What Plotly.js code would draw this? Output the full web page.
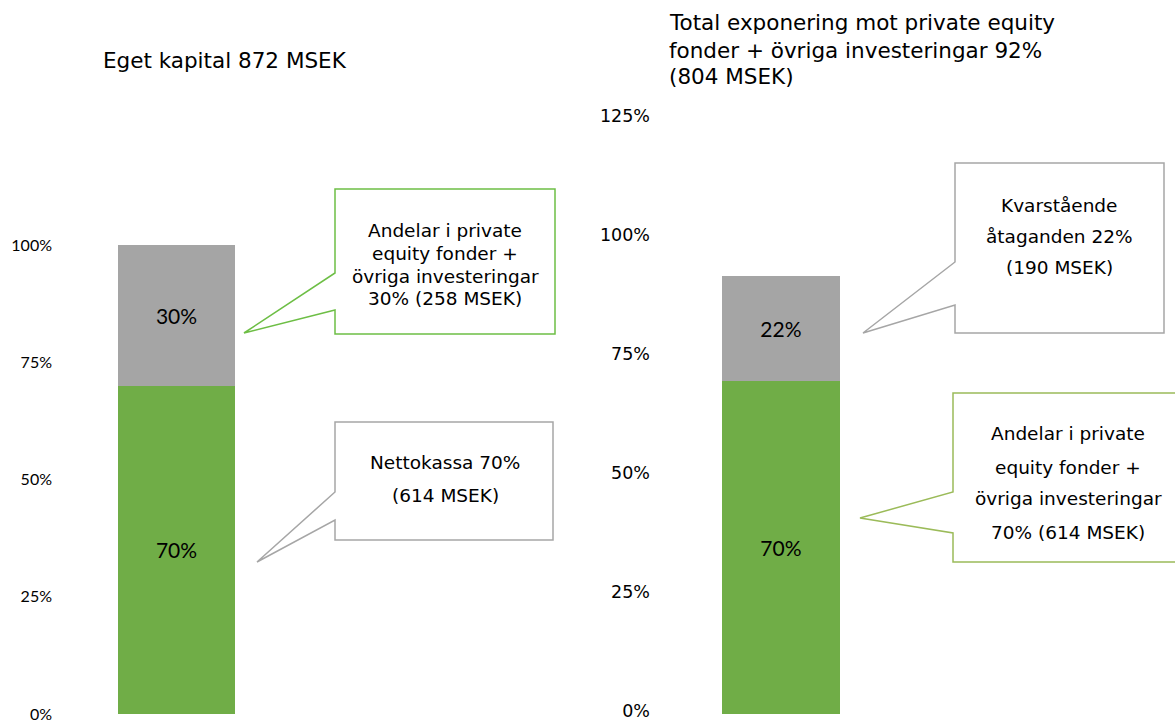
<!DOCTYPE html>
<html>
<head>
<meta charset="utf-8">
<script src="https://cdn.plot.ly/plotly-3.0.1.min.js"></script>
<style>html,body{margin:0;padding:0;background:#fff;}#chart{width:1175px;height:722px;}</style>
</head>
<body>
<div id="chart"></div>
<script>
// ---- Data ----
const leftCategory = ['Eget kapital'];
const leftNetCash = [0.70];          // Nettokassa
const leftHoldings = [0.30];         // Andelar i PE-fonder + övriga investeringar
const rightCategory = ['Total exponering'];
const rightHoldings = [0.70];        // Andelar i PE-fonder + övriga investeringar
const rightCommitments = [0.22];     // Kvarstående åtaganden
const leftTicks = [0, 0.25, 0.5, 0.75, 1.0];
const rightTicks = [0, 0.25, 0.5, 0.75, 1.0, 1.25];
const leftTitle = 'Eget kapital 872 MSEK';
const rightTitleLines = ['Total exponering mot private equity', 'fonder + övriga investeringar 92%', '(804 MSEK)'];
const calloutLeftTop = ['Andelar i private', 'equity fonder +', 'övriga investeringar', '30% (258 MSEK)'];
const calloutLeftBottom = ['Nettokassa 70%', '(614 MSEK)'];
const calloutRightTop = ['Kvarstående', 'åtaganden 22%', '(190 MSEK)'];
const calloutRightBottom = ['Andelar i private', 'equity fonder +', 'övriga investeringar', '70% (614 MSEK)'];

// ---- Helpers ----
const W = 1175, H = 722;
const px = x => x / W;
const py = y => 1 - y / H;
const pct = v => Math.round(v * 100) + '%';
const GREEN = '#70AD47', GREY = '#A5A5A5';
const barFont = {family: 'Lato, "Liberation Sans", sans-serif', size: 21, color: '#000'};

const traces = [
  {type: 'bar', x: leftCategory, y: leftNetCash, xaxis: 'x', yaxis: 'y', width: 1,
   marker: {color: GREEN}, text: leftNetCash.map(pct), textposition: 'inside', insidetextanchor: 'middle',
   textfont: barFont, hoverinfo: 'skip'},
  {type: 'bar', x: leftCategory, y: leftHoldings, xaxis: 'x', yaxis: 'y', width: 1,
   marker: {color: GREY}, text: leftHoldings.map(pct), textposition: 'inside', insidetextanchor: 'middle',
   textfont: barFont, hoverinfo: 'skip'},
  {type: 'bar', x: rightCategory, y: rightHoldings, xaxis: 'x2', yaxis: 'y2', width: 1,
   marker: {color: GREEN}, text: rightHoldings.map(pct), textposition: 'inside', insidetextanchor: 'middle',
   textfont: barFont, hoverinfo: 'skip'},
  {type: 'bar', x: rightCategory, y: rightCommitments, xaxis: 'x2', yaxis: 'y2', width: 1,
   marker: {color: GREY}, text: rightCommitments.map(pct), textposition: 'inside', insidetextanchor: 'middle',
   textfont: barFont, hoverinfo: 'skip'}
];

function calloutPath(pts) {
  return 'M ' + pts.map(p => px(p[0]) + ',' + py(p[1])).join(' L ') + ' Z';
}
const shapes = [
  {type: 'path', xref: 'paper', yref: 'paper', line: {color: '#6DBE45', width: 1.5}, fillcolor: 'rgba(255,255,255,1)',
   path: calloutPath([[335,189],[555,189],[555,334],[335,334],[335,310],[244,333],[335,273]])},
  {type: 'path', xref: 'paper', yref: 'paper', line: {color: '#A6A6A6', width: 1.5}, fillcolor: 'rgba(255,255,255,1)',
   path: calloutPath([[335,422],[553,422],[553,540],[335,540],[335,520],[257,562],[335,492]])},
  {type: 'path', xref: 'paper', yref: 'paper', line: {color: '#A6A6A6', width: 1.5}, fillcolor: 'rgba(255,255,255,1)',
   path: calloutPath([[955,163],[1164,163],[1164,333],[955,333],[955,305],[863,333],[955,262]])},
  {type: 'path', xref: 'paper', yref: 'paper', line: {color: '#9BBB59', width: 1.5}, fillcolor: 'rgba(255,255,255,1)',
   path: calloutPath([[953,393],[1180,393],[1180,562],[953,562],[953,533],[860,518],[953,492]])}
];

const textFont = {family: '"DejaVu Sans", Verdana, sans-serif', size: 18.5, color: '#000'};
const titleFont = {family: '"DejaVu Sans", Verdana, sans-serif', size: 21.5, color: '#000'};
const annotations = [];
function addLines(lines, cx, ys, font, anchor) {
  lines.forEach((t, i) => annotations.push({xref: 'paper', yref: 'paper', x: px(cx), y: py(ys[i]), text: t,
    showarrow: false, xanchor: anchor || 'center', yanchor: 'middle', font: font}));
}
addLines([leftTitle], 101, [61], titleFont, 'left');
addLines(rightTitleLines, 667, [22, 50, 77], titleFont, 'left');
addLines(calloutLeftTop, 445, [230, 253, 276, 298], textFont);
addLines(calloutLeftBottom, 445, [462, 495], textFont);
addLines(calloutRightTop, 1059, [205, 236, 267], textFont);
addLines(calloutRightBottom, 1068, [433, 467, 498, 532], textFont);

const axBase = {showgrid: false, zeroline: false, showline: false, fixedrange: true};
const layout = {
  width: W, height: H,
  margin: {l: 0, r: 0, t: 0, b: 0, pad: 0},
  paper_bgcolor: '#fff', plot_bgcolor: '#fff',
  barmode: 'stack', showlegend: false,
  xaxis: Object.assign({}, axBase, {domain: [px(56), px(300)], range: [-1.03, 1.056], showticklabels: false, anchor: 'y'}),
  yaxis: Object.assign({}, axBase, {domain: [py(714), py(127.75)], range: [0, 1.25], tickvals: leftTicks,
    tickformat: '.0%', ticks: '', anchor: 'x', ticklabelstandoff: 3, ticklabeloverflow: 'allow',
    tickfont: {family: 'Lato, "Liberation Sans", sans-serif', size: 16, color: '#000'}}),
  xaxis2: Object.assign({}, axBase, {domain: [px(655), 1], range: [-1.069, 3.346], showticklabels: false, anchor: 'y2'}),
  yaxis2: Object.assign({}, axBase, {domain: [py(714), py(119)], range: [0, 1.25], tickvals: rightTicks,
    tickformat: '.0%', ticks: '', anchor: 'x2', ticklabelstandoff: 4, ticklabeloverflow: 'allow', ticklabelshift: -3,
    tickfont: {family: '"DejaVu Sans", Verdana, sans-serif', size: 17.5, color: '#000'}}),
  shapes: shapes,
  annotations: annotations
};
Plotly.newPlot('chart', traces, layout, {displayModeBar: false, staticPlot: true});
</script>
</body>
</html>
